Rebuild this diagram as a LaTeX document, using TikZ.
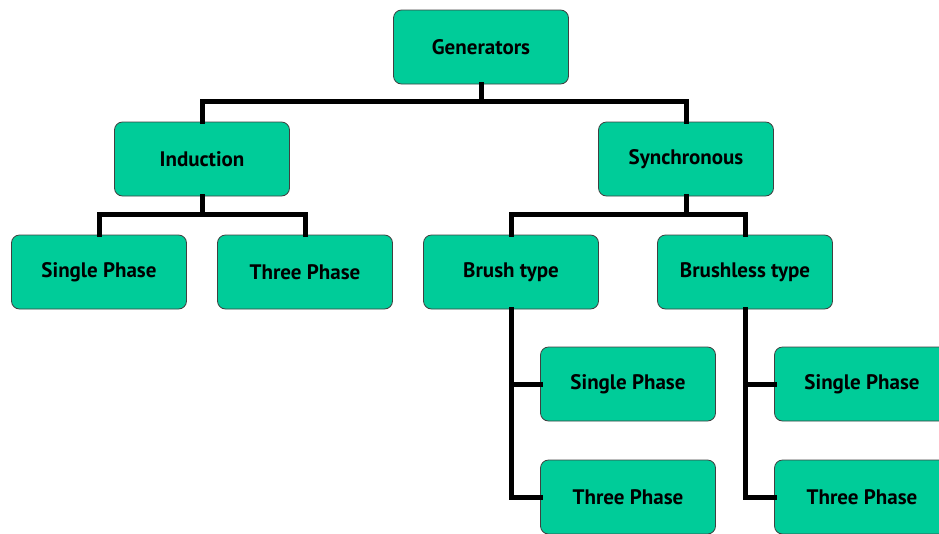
\documentclass[tikz,border=0pt]{standalone}
\usepackage{fontspec}
\setmainfont{PT Sans}
\begin{document}
\begin{tikzpicture}[x=1pt,y=-1pt,
  box/.style={draw=black!75, line width=0.8pt, fill={rgb,255:red,0;green,204;blue,153}, rounded corners=8pt,
    minimum width=175pt, minimum height=74pt, inner sep=0pt, font=\bfseries\fontsize{21}{24}\selectfont},
  conn/.style={line width=5pt, line cap=rect}]
\useasboundingbox (0,0) rectangle (939,533);
\clip (0,0) rectangle (939,533);
\node[box] (gen) at (481,47) {Generators};
\node[box] (ind) at (202,159) {Induction};
\node[box] (syn) at (686,159) {Synchronous};
\node[box] (isp) at (99,272) {Single Phase};
\node[box] (itp) at (305,272) {Three Phase};
\node[box] (bru) at (511,272) {Brush type};
\node[box] (bls) at (745,272) {Brushless type};
\node[box] (bsp) at (628,384) {Single Phase};
\node[box] (btp) at (628,497) {Three Phase};
\node[box] (lsp) at (862,384) {Single Phase};
\node[box] (ltp) at (862,497) {Three Phase};
\begin{scope}[on background layer/.try]
\end{scope}
\coordinate (g1) at (481,101);
\draw[conn] (gen.south) -- (g1);
\draw[conn] (ind.north) -- (202,101) -- (686,101) -- (syn.north);
\draw[conn] (ind.south) -- (202,214);
\draw[conn] (isp.north) -- (99,214) -- (305,214) -- (itp.north);
\draw[conn] (syn.south) -- (686,214);
\draw[conn] (bru.north) -- (511,214) -- (745,214) -- (bls.north);
\draw[conn] (bru.south) -- (511,497) -- (btp.west);
\draw[conn] (511,384) -- (bsp.west);
\draw[conn] (bls.south) -- (745,497) -- (ltp.west);
\draw[conn] (745,384) -- (lsp.west);
\end{tikzpicture}
\end{document}
